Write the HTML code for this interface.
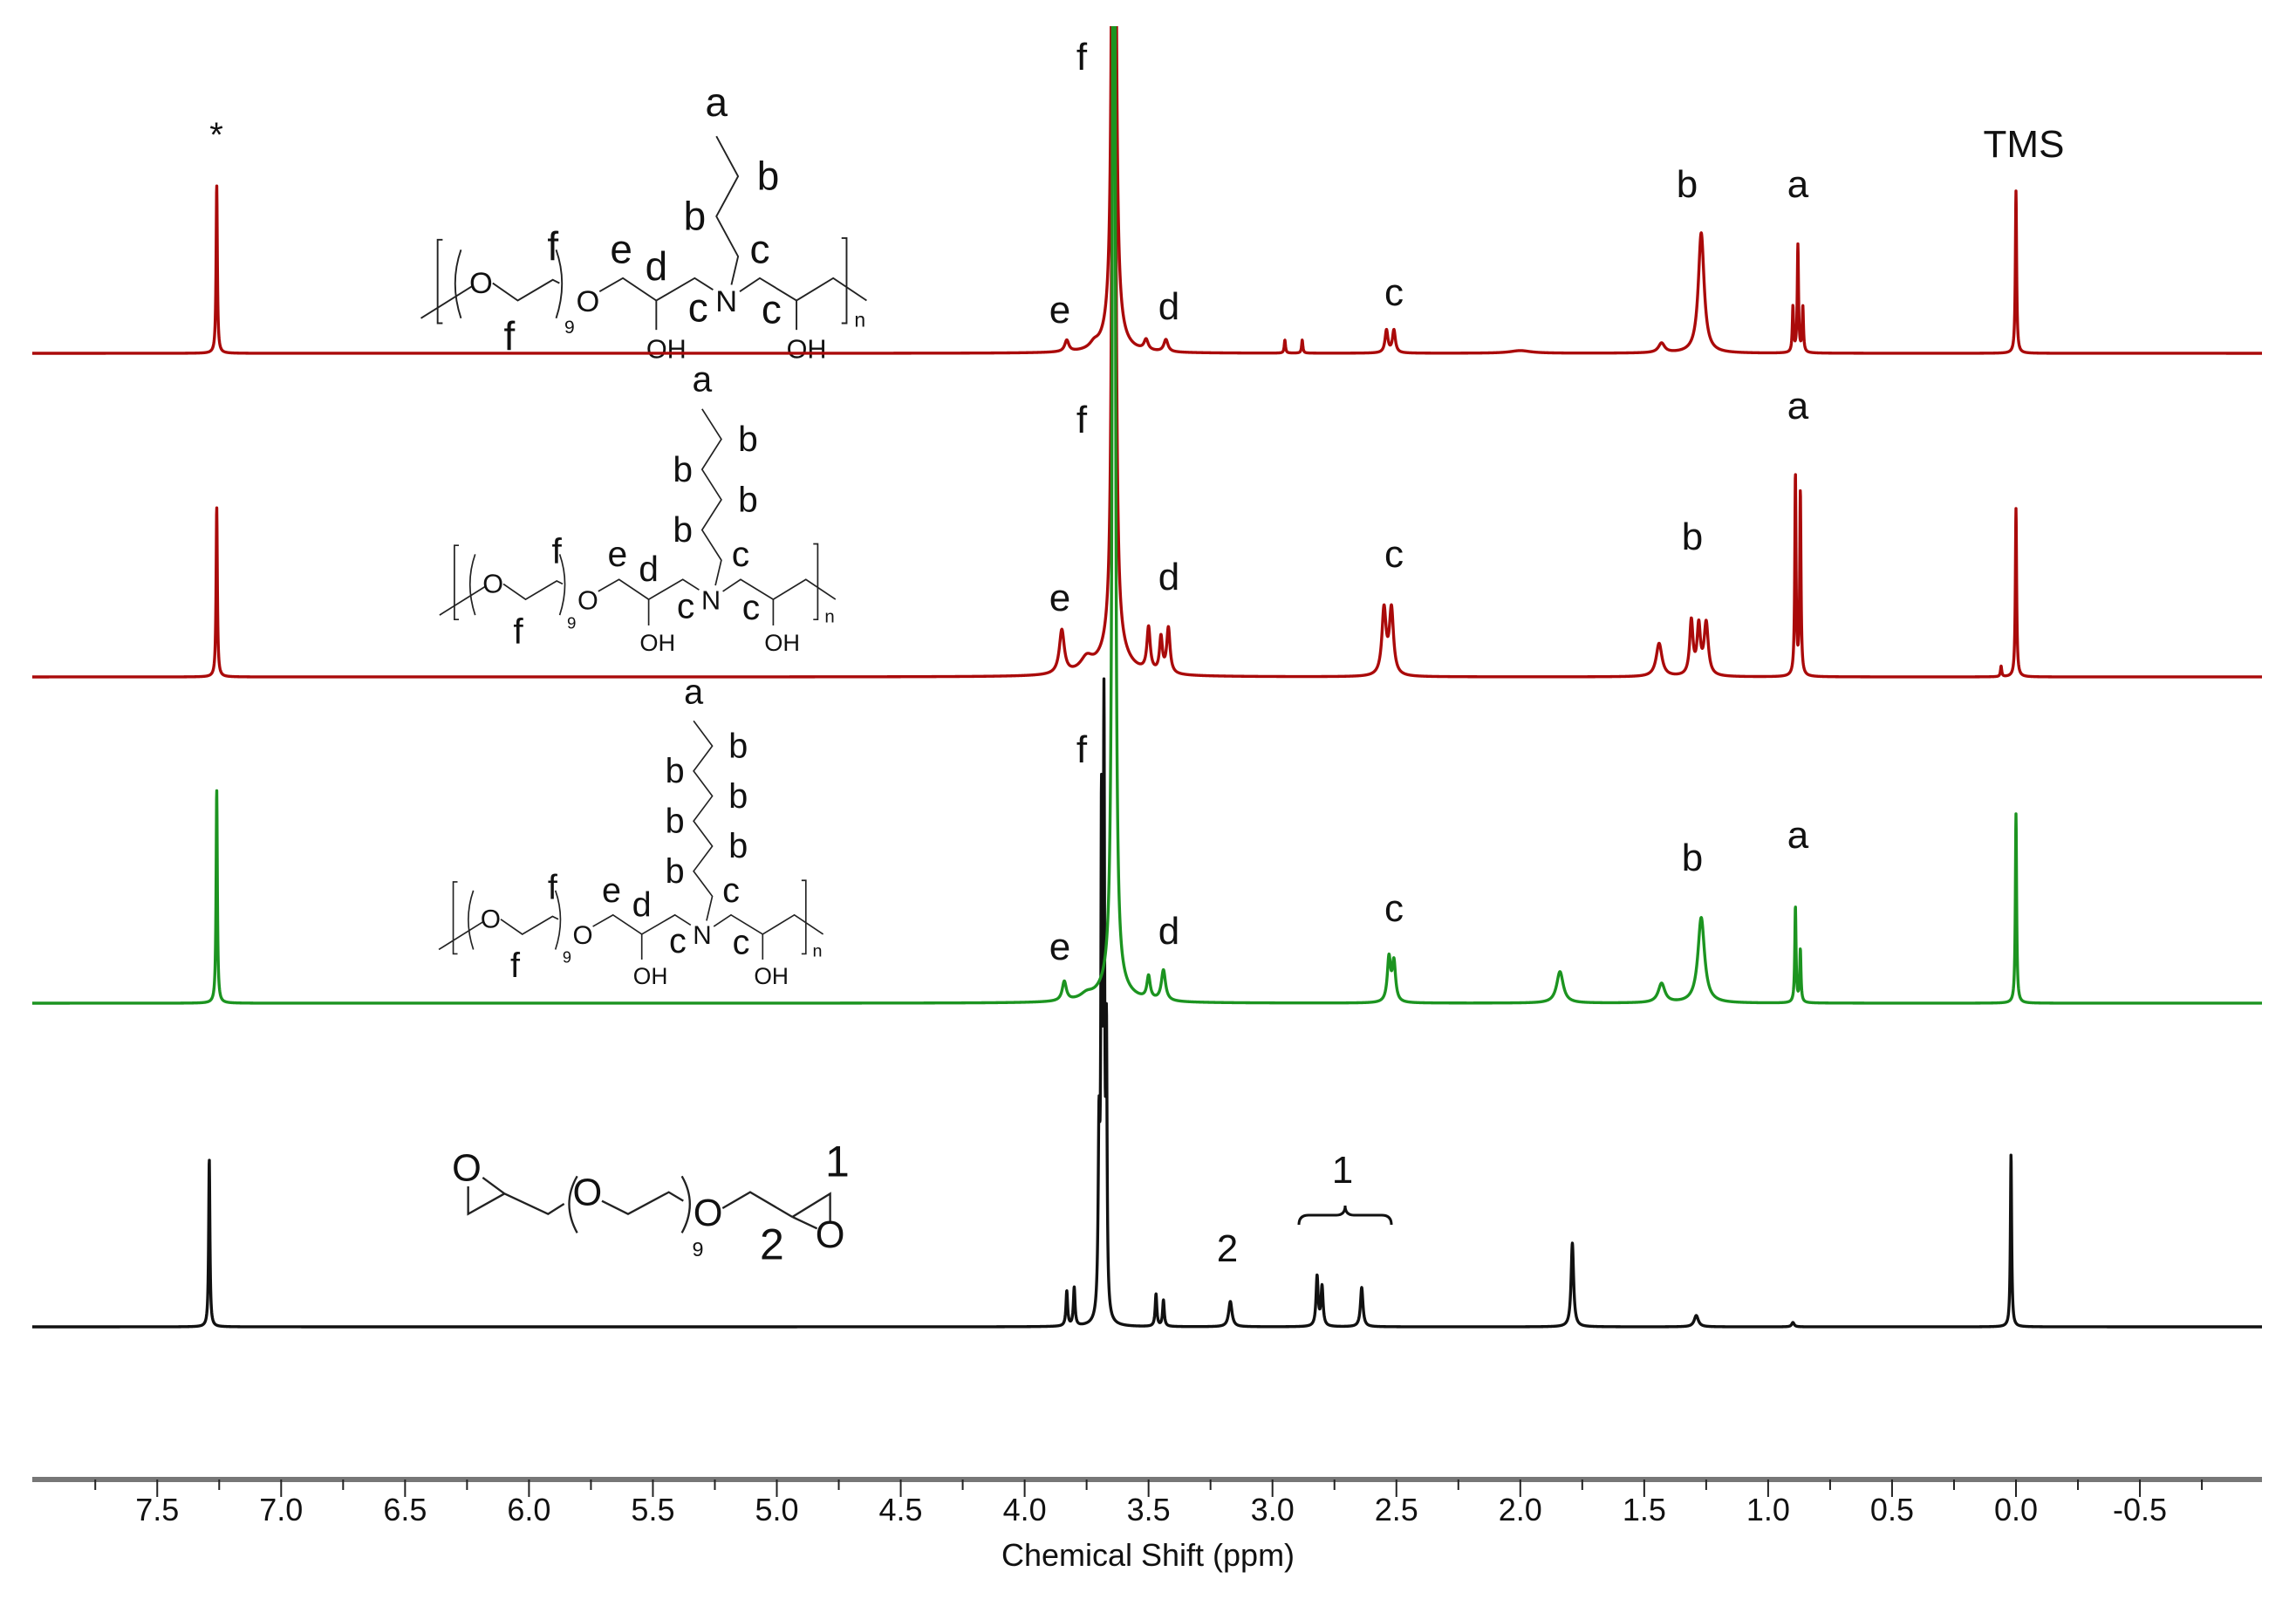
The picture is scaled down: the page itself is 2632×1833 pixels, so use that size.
<!DOCTYPE html>
<html><head><meta charset="utf-8"><style>
html,body{margin:0;padding:0;background:#fff}
svg{display:block}
text{font-family:"Liberation Sans",Arial,sans-serif}
</style></head><body>
<svg id="chart" width="2632" height="1833" viewBox="0 0 2632 1833" xmlns="http://www.w3.org/2000/svg">
<defs><clipPath id="clip"><rect x="0" y="30" width="2632" height="1700"/></clipPath></defs>
<g id="structs"></g>
<g id="spectra" clip-path="url(#clip)"></g>
<g id="axis"></g>
<g id="labels"></g>
</svg>
<script>
// ---- data ----
const tickLabels = ["7.5","7.0","6.5","6.0","5.5","5.0","4.5","4.0","3.5","3.0","2.5","2.0","1.5","1.0","0.5","0.0","-0.5"];
const tickValues = [7.5,7.0,6.5,6.0,5.5,5.0,4.5,4.0,3.5,3.0,2.5,2.0,1.5,1.0,0.5,0.0,-0.5];
const axisTitle = "Chemical Shift (ppm)";

// spectrum 1 (top red)
const s1Shift = [7.26, 3.64, 3.64, 3.83, 3.72, 3.51, 3.43, 2.95, 2.88, 2.54, 2.51, 1.43, 1.27, 0.90, 0.88, 0.86, 0.0, 2.0];
const s1Int   = [193, 3000, 20, 13, 6, 12, 14, 15, 15, 26, 26, 11, 138, 52, 123, 52, 186, 3];
const s1Width = [0.003, 0.004, 0.04, 0.01, 0.02, 0.01, 0.01, 0.003, 0.003, 0.007, 0.007, 0.015, 0.014, 0.003, 0.003, 0.003, 0.003, 0.05];

// spectrum 2 (middle red)
const s2Shift = [7.26, 3.64, 3.64, 3.85, 3.75, 3.50, 3.45, 3.42, 2.55, 2.52, 1.44, 1.31, 1.28, 1.25, 0.89, 0.87, 0.06, 0.0];
const s2Int   = [195, 3000, 30, 50, 15, 50, 40, 52, 75, 75, 38, 62, 55, 60, 230, 210, 12, 193];
const s2Width = [0.003, 0.004, 0.06, 0.012, 0.03, 0.008, 0.007, 0.008, 0.01, 0.01, 0.014, 0.008, 0.008, 0.01, 0.003, 0.003, 0.003, 0.003];

// spectrum 3 (green)
const s3Shift = [7.26, 3.64, 3.64, 3.84, 3.75, 3.50, 3.44, 2.53, 2.51, 1.84, 1.43, 1.27, 0.89, 0.87, 0.0];
const s3Int   = [245, 3000, 20, 22, 6, 26, 35, 50, 45, 36, 22, 98, 110, 60, 217];
const s3Width = [0.003, 0.004, 0.06, 0.01, 0.03, 0.008, 0.01, 0.008, 0.008, 0.016, 0.016, 0.016, 0.003, 0.003, 0.003];

// spectrum 4 (black, monomer)
const s4Shift = [7.29, 3.68, 3.69, 3.70, 3.67, 3.83, 3.80, 3.47, 3.44, 3.17, 2.82, 2.80, 2.64, 1.79, 1.29, 0.90, 0.02];
const s4Int   = [193, 665, 547, 200, 300, 40, 44, 37, 30, 29, 57, 45, 45, 96, 13, 5, 198];
const s4Width = [0.003, 0.003, 0.003, 0.004, 0.003, 0.004, 0.004, 0.004, 0.004, 0.008, 0.005, 0.005, 0.006, 0.006, 0.01, 0.006, 0.003];

const baselines = [405, 776, 1150, 1521];
const colors = ["#aa0a0a", "#aa0a0a", "#1c9420", "#111111"];
const names = ["spectrum-top-red", "spectrum-middle-red", "spectrum-green", "spectrum-black"];

// ---- scales ----
const X0 = 2311, PX = 284.1;
function xScale(ppm){ return X0 - PX*ppm; }
function ppmAt(x){ return (X0 - x)/PX; }
const NS = "http://www.w3.org/2000/svg";
function mk(tag, attrs, parent){ const e=document.createElementNS(NS,tag); for(const k in attrs) e.setAttribute(k,attrs[k]); parent.appendChild(e); return e; }

const spectra = [[s1Shift,s1Int,s1Width],[s2Shift,s2Int,s2Width],[s3Shift,s3Int,s3Width],[s4Shift,s4Int,s4Width]];
const order = [3,0,1,2];
const gS = document.getElementById('spectra');
order.forEach(i=>{
  const [sh,it,wd]=spectra[i];
  let d="";
  for(let x=37;x<=2593;x+=0.25){
    const p=ppmAt(x); let y=0;
    for(let k=0;k<sh.length;k++){ const dx=p-sh[k]; y+=it[k]*wd[k]*wd[k]/(dx*dx+wd[k]*wd[k]); }
    d+=(d?"L":"M")+x.toFixed(2)+","+(baselines[i]-y).toFixed(2);
  }
  const path=mk('path',{d:d,fill:"none",stroke:colors[i],"stroke-width":3.4,"stroke-linejoin":"round"},gS);
  
  
});

// ---- axis ----
const gA=document.getElementById('axis');
const al=mk('line',{x1:37,y1:1696,x2:2593,y2:1696,stroke:"#777", "stroke-width":6},gA);


tickValues.forEach((v,i)=>{
  const x=xScale(v);
  const t=mk('line',{x1:x,y1:1696,x2:x,y2:1716,stroke:"#222","stroke-width":2},gA);
  
  
  const m=mk('line',{x1:xScale(v+0.25),y1:1696,x2:xScale(v+0.25),y2:1708,stroke:"#222","stroke-width":2},gA);
  
  
  const lb=mk('text',{x:x,y:1743,"font-size":36,"text-anchor":"middle",fill:"#111"},gA);
  lb.textContent=tickLabels[i];
  
  
});
const mEnd=mk('line',{x1:xScale(-0.75),y1:1696,x2:xScale(-0.75),y2:1708,stroke:"#222","stroke-width":2},gA);


const at=mk('text',{x:1316,y:1795,"font-size":36,"text-anchor":"middle",fill:"#111"},gA);
at.textContent=axisTitle;



// ---- peak labels ----
const labelText=["*","f","e","d","c","b","a","TMS","f","e","d","c","b","a","f","e","d","c","b","a","2","1"];
const labelX=[248,1240,1215,1340,1598,1934,2061,2320,1240,1215,1340,1598,1940,2061,1240,1215,1340,1598,1940,2061,1407,1539];
const labelY=[168,80,370,366,350,226,226,180,496,700,676,650,630,480,874,1100,1082,1056,998,972,1446,1356];
const gL=document.getElementById('labels');
labelText.forEach((t,i)=>{
  const e=mk('text',{x:labelX[i],y:labelY[i],"font-size":i===0?40:44,"text-anchor":"middle",fill:"#111"},gL);
  e.textContent=t;
  
  
});
const br=mk('path',{d:"M1489,1404 Q1489,1393 1500,1393 L1532,1393 Q1542,1393 1542,1382 Q1542,1393 1552,1393 L1584,1393 Q1595,1393 1595,1404",fill:"none",stroke:"#111","stroke-width":3},gL);



// ---- structures ----
const gT=document.getElementById('structs');
function polymer(tx,ty,sc,nseg,step){
  const g=mk('g',{transform:`translate(${tx},${ty}) scale(${sc})`},gT);
  
  
  const st={fill:"none",stroke:"#222","stroke-width":5};
  const lines=[
    "M85,765 L240,668","M300,660 L375,712 L480,650 L500,660",
    "M620,685 L690,645 L790,712 L905,645 L960,680",
    "M1040,685 L1100,645 L1210,712 L1320,645 L1420,712",
    "M790,712 L790,800","M1210,712 L1210,800",
    "M150,530 L135,530 L135,780 L150,780","M1345,525 L1360,525 L1360,780 L1345,780",
    "M205,560 Q170,660 205,765","M490,560 Q525,660 490,765"
  ];
  lines.forEach(d=>mk('path',Object.assign({d:d},st),g));
  const T=(s,x,y,f)=>{const e=mk('text',{x:x,y:y,"font-size":f,"text-anchor":"middle",fill:"#111"},g); e.textContent=s;};
  let pts=[[1015,665],[1035,580]];
  for(let k=1;k<=nseg;k++){
    const y=580-k*step; const left=(k%2===1);
    pts.push([left?970:1035,y]);
    if(k<nseg) T("b",left?905:1125,y+40,120);
  }
  mk('path',Object.assign({d:"M"+pts.map(p=>p.join(",")).join(" L")},st),g);
  T("O",265,690,90);T("O",585,745,90);T("N",1000,745,90);
  T("OH",820,885,80);T("OH",1240,885,80);T("9",530,810,55);T("n",1400,790,60);
  T("f",480,590,120);T("f",350,860,120);T("e",685,600,120);T("d",790,650,120);
  T("c",915,775,120);T("c",1100,600,120);T("c",1135,780,120);
  T("a",970,580-nseg*step-60,120);
}
polymer(450,72,0.3827,3,120);
polymer(475,445,0.34,5,102);
polymer(475,836,0.33,7,87);

// monomer
(function(){
  const g=mk('g',{transform:"translate(500,1290) scale(0.3333)"},gT);
  
  
  const st={fill:"none",stroke:"#222","stroke-width":7};
  ["M110,210 L110,305 L235,235 L160,180","M235,235 L385,305 L440,270",
   "M570,260 L660,305 L800,230 L850,260","M985,285 L1080,230 L1225,315",
   "M1225,315 L1355,235 L1355,335","M1225,315 L1310,355",
   "M485,175 Q430,270 485,370","M845,175 Q900,270 845,370"].forEach(d=>mk('path',Object.assign({d:d},st),g));
  const T=(s,x,y,f)=>{const e=mk('text',{x:x,y:y,"font-size":f,"text-anchor":"middle",fill:"#111"},g); e.textContent=s;};
  T("O",105,190,130);T("O",520,275,130);T("O",935,345,130);T("O",1355,420,130);
  T("9",900,450,70);T("2",1155,460,150);T("1",1380,175,150);
})();
</script>
</body></html>
